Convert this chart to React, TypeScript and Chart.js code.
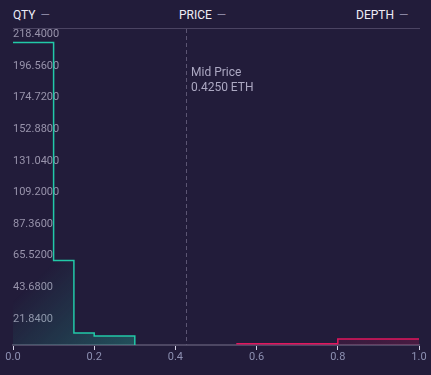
import React, { useEffect, useRef } from 'react';
import { Chart, registerables } from 'chart.js';

Chart.register(...registerables);

// ---- data ----
const BID_PRICES = [0, 0.1, 0.15, 0.2, 0.3];
const BID_QTY = [209, 58.4, 8.3, 6.2, 0];
const ASK_PRICES = [0.55, 0.8, 1.0];
const ASK_QTY = [0.8, 4.2, 4.2];
const Y_TICKS = [21.84, 43.68, 65.52, 87.36, 109.2, 131.04, 152.88, 174.72, 196.56, 218.4];
const X_TICKS = [0, 0.2, 0.4, 0.6, 0.8, 1.0];
const Y_MAX = 218.4;
const MID_PRICE = 0.425;
const MID_LABEL = ['Mid Price', '0.4250 ETH'];
const HEADERS = ['QTY', 'PRICE', 'DEPTH'];

const BG = 'rgb(34,28,58)';
const GREEN = '#22c9a8';
const RED = '#e2165e';
const FONT = 'Roboto, "Noto Sans", sans-serif';

const midPricePlugin = {
  id: 'midPrice',
  afterDatasetsDraw(chart: any) {
    const { ctx, chartArea, scales } = chart;
    const x = Math.round(scales.x.getPixelForValue(MID_PRICE)) + 0.5;
    ctx.save();
    ctx.strokeStyle = '#5c5573';
    ctx.lineWidth = 1;
    ctx.setLineDash([4, 3]);
    ctx.beginPath();
    ctx.moveTo(x, chartArea.top);
    ctx.lineTo(x, chartArea.bottom);
    ctx.stroke();
    ctx.setLineDash([]);
    ctx.fillStyle = '#aca8c2';
    ctx.font = `12px ${FONT}`;
    ctx.textBaseline = 'middle';
    ctx.textAlign = 'left';
    MID_LABEL.forEach((t, i) => ctx.fillText(t, x + 4.5, chartArea.top + 44 + i * 15));
    ctx.restore();
  },
};

// diagonal gradient from (x0,y0) to (x1,y1) in data units
function gradientFill(color: string, x0: number, y0: number, x1: number, y1: number, a0: number, a1: number) {
  return (c: any) => {
    const { chart } = c;
    const { chartArea, scales } = chart;
    if (!chartArea || !scales.x || !scales.y) return 'transparent';
    const g = chart.ctx.createLinearGradient(
      scales.x.getPixelForValue(x0), scales.y.getPixelForValue(y0),
      scales.x.getPixelForValue(x1), scales.y.getPixelForValue(y1)
    );
    g.addColorStop(0, `rgba(${color},${a0})`);
    g.addColorStop(1, `rgba(${color},${a1})`);
    return g;
  };
}

export default function App() {
  const ref = useRef<HTMLCanvasElement>(null);

  useEffect(() => {
    document.body.style.margin = '0';
    document.body.style.background = BG;
    const chart = new Chart(ref.current!, {
      type: 'line',
      data: {
        datasets: [
          {
            label: 'Bids',
            data: BID_PRICES.map((p, i) => ({ x: p, y: BID_QTY[i] })),
            stepped: 'before',
            borderColor: GREEN,
            borderWidth: 1.5,
            pointRadius: 0,
            fill: 'origin',
            backgroundColor: gradientFill('33,201,168', 0.1, 58, 0.3, 0, 0, 0.3),
          },
          {
            label: 'Asks',
            data: ASK_PRICES.map((p, i) => ({ x: p, y: ASK_QTY[i] })),
            stepped: 'before',
            borderColor: RED,
            borderWidth: 1.5,
            pointRadius: 0,
            fill: 'origin',
            backgroundColor: gradientFill('226,22,94', 0.55, 5, 1.0, 0, 0, 0.2),
          },
        ],
      },
      options: {
        animation: false,
        responsive: false,
        devicePixelRatio: 1,
        layout: { padding: { left: 13, right: 12, top: 29, bottom: 9.8 } },
        plugins: { legend: { display: false }, tooltip: { enabled: false } },
        scales: {
          x: {
            type: 'linear',
            min: 0,
            max: 1,
            afterBuildTicks: (axis: any) => {
              axis.ticks = X_TICKS.map((v) => ({ value: v }));
            },
            grid: {
              display: true,
              drawOnChartArea: false,
              drawTicks: true,
              tickLength: 5,
              tickColor: '#d6d2e6',
              lineWidth: 1,
            },
            border: { display: true, color: '#4d4763', width: 2 },
            ticks: {
              color: '#8d90b2',
              font: { family: FONT, size: 11 },
              padding: 1,
              maxRotation: 0,
              callback: (v: any) => Number(v).toFixed(1),
            },
          },
          y: {
            type: 'linear',
            min: 0,
            max: Y_MAX,
            afterBuildTicks: (axis: any) => {
              axis.ticks = Y_TICKS.map((v) => ({ value: v }));
            },
            grid: { display: false, drawTicks: false },
            border: { display: false },
            ticks: {
              mirror: true,
              padding: 0,
              labelOffset: 5.5,
              color: '#9893ab',
              font: { family: FONT, size: 11 },
              callback: (v: any) => Number(v).toFixed(4),
            },
          },
        },
      },
      plugins: [midPricePlugin],
    } as any);
    return () => chart.destroy();
  }, []);

  const headerPos = [
    { left: 13 },
    { left: 179 },
    { left: 356 },
  ];

  return (
    <div
      style={{
        position: 'fixed',
        left: 0,
        top: 0,
        width: 431,
        height: 375,
        background: BG,
        overflow: 'hidden',
        fontFamily: FONT,
      }}
    >
      {HEADERS.map((h, i) => (
        <div
          key={h}
          style={{
            position: 'absolute',
            top: 7,
            left: headerPos[i].left,
            height: 16,
            lineHeight: '16px',
            fontSize: 12,
            fontWeight: 400,
            color: '#eeecf6',
            whiteSpace: 'nowrap',
          }}
        >
          {h}
          <span style={{ color: '#8a86a2', marginLeft: 5, fontWeight: 400, fontSize: 12 }}>—</span>
        </div>
      ))}
      <div
        style={{
          position: 'absolute',
          top: 28,
          left: 13,
          width: 407,
          height: 1,
          background: '#4b4462',
        }}
      />
      <canvas
        ref={ref}
        width={431}
        height={375}
        style={{ position: 'absolute', left: 0, top: 0, width: 431, height: 375 }}
      />
    </div>
  );
}
